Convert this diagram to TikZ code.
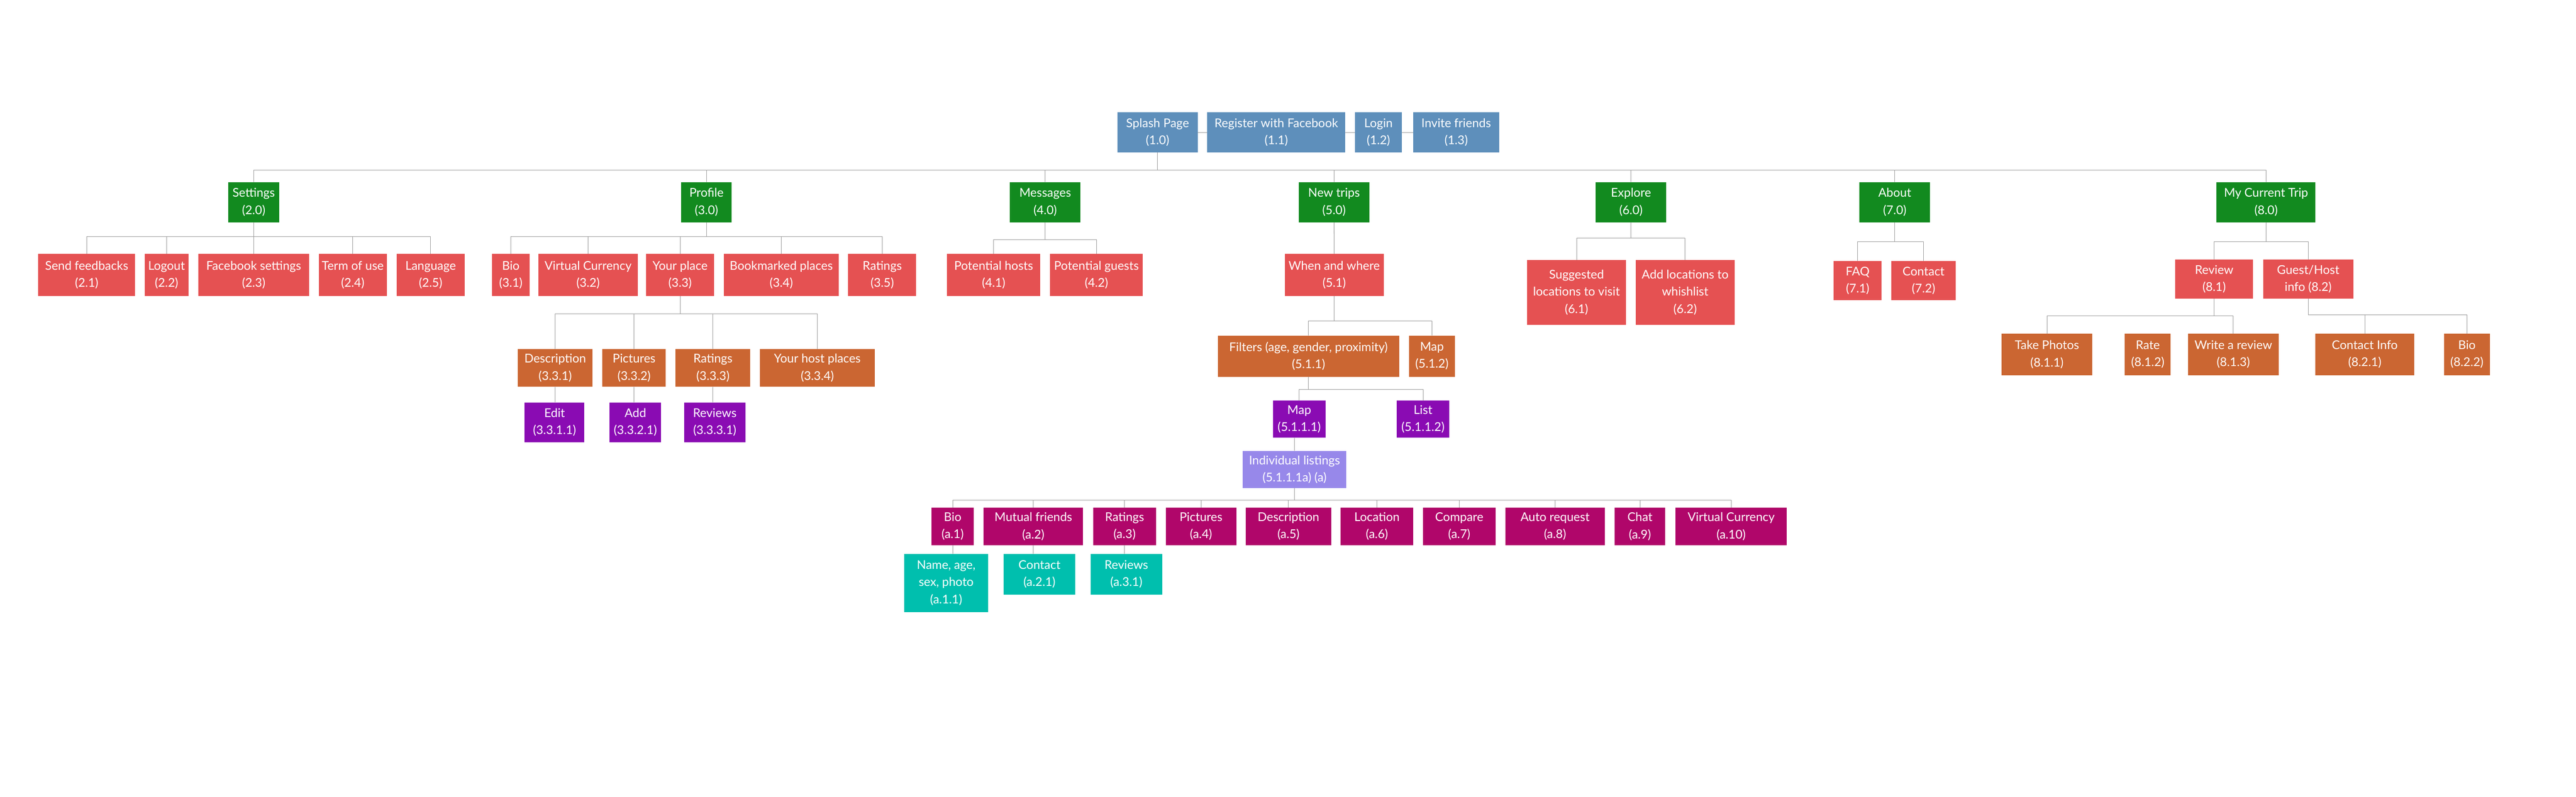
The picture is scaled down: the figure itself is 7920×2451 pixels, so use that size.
\documentclass[tikz,border=0pt]{standalone}
\usepackage{fontspec}
\setmainfont{Lato}
\definecolor{navblue}{RGB}{94,143,187}
\definecolor{topgreen}{RGB}{18,138,31}
\definecolor{itemred}{RGB}{229,81,82}
\definecolor{suborange}{RGB}{203,102,50}
\definecolor{leafpurple}{RGB}{138,11,179}
\definecolor{listlav}{RGB}{151,136,234}
\definecolor{detailmag}{RGB}{176,6,106}
\definecolor{extrateal}{RGB}{0,191,174}
\definecolor{linegray}{RGB}{154,154,154}
\begin{document}
\begin{tikzpicture}[x=0.25pt, y=-0.25pt, line join=round, line cap=round,
    font=\fontsize{9.3}{13.2}\selectfont,
    card/.style={inner sep=0pt, align=center, text=white},
    dims/.style 2 args={minimum width=#1pt, minimum height=#2pt},
    navbox/.style={card, fill=navblue},
    topbox/.style={card, fill=topgreen},
    redbox/.style={card, fill=itemred},
    orangebox/.style={card, fill=suborange},
    purplebox/.style={card, fill=leafpurple},
    lavbox/.style={card, fill=listlav},
    magbox/.style={card, fill=detailmag},
    tealbox/.style={card, fill=extrateal},
    link/.style={draw=linegray, line width=0.4pt}]
  \useasboundingbox (0,0) rectangle (7920,2451);

  % start row
  \node[navbox, dims={61.5}{30.75}] (splash) at (3559,407.5) {Splash Page\\(1.0)};
  \node[navbox, dims={106}{30.75}] (register) at (3924,407.5) {Register with Facebook\\(1.1)};
  \node[navbox, dims={36}{30.75}] (login) at (4238,407.5) {Login\\(1.2)};
  \node[navbox, dims={66}{30.75}] (invite) at (4477,407.5) {Invite friends\\(1.3)};

  % main sections
  \node[topbox, dims={39}{31}] (settings) at (780,622) {Settings\\(2.0)};
  \node[topbox, dims={39}{31}] (profile) at (2172,622) {Profile\\(3.0)};
  \node[topbox, dims={54.25}{31}] (messages) at (3213.5,622) {Messages\\(4.0)};
  \node[topbox, dims={54.25}{31}] (newtrips) at (4101.5,622) {New trips\\(5.0)};
  \node[topbox, dims={54.25}{31}] (explore) at (5014.5,622) {Explore\\(6.0)};
  \node[topbox, dims={54.25}{31}] (about) at (5825.5,622) {About\\(7.0)};
  \node[topbox, dims={76}{31}] (mytrip) at (6967,622) {My Current Trip\\(8.0)};

  % second level
  \node[redbox, dims={74.25}{32.5}] (sendfb) at (266.5,846) {Send feedbacks\\(2.1)};
  \node[redbox, dims={33.5}{32.5}] (logout) at (512,846) {Logout\\(2.2)};
  \node[redbox, dims={85}{32.5}] (fbset) at (780,846) {Facebook settings\\(2.3)};
  \node[redbox, dims={52.25}{32.5}] (terms) at (1084.5,846) {Term of use\\(2.4)};
  \node[redbox, dims={52.5}{32.5}] (lang) at (1324,846) {Language\\(2.5)};
  \node[redbox, dims={28.75}{32.5}] (bio) at (1570.5,846) {Bio\\(3.1)};
  \node[redbox, dims={76.5}{32.5}] (vcur) at (1808,846) {Virtual Currency\\(3.2)};
  \node[redbox, dims={52.5}{32.5}] (yourplace) at (2091,846) {Your place\\(3.3)};
  \node[redbox, dims={88}{32.5}] (bookmarked) at (2402,846) {Bookmarked places\\(3.4)};
  \node[redbox, dims={52.25}{32.5}] (ratings) at (2712.5,846) {Ratings\\(3.5)};
  \node[redbox, dims={71.5}{32.5}] (phosts) at (3055,846) {Potential hosts\\(4.1)};
  \node[redbox, dims={71.5}{32.5}] (pguests) at (3371,846) {Potential guests\\(4.2)};
  \node[redbox, dims={76}{32.5}] (whenwhere) at (4102,846) {When and where\\(5.1)};
  \node[redbox, dims={76}{49.75}] (suggested) at (4847,899.5) {Suggested\\locations to visit\\(6.1)};
  \node[redbox, dims={76}{49.75}] (addwish) at (5181,899.5) {Add locations to\\whishlist\\(6.2)};
  \node[redbox, dims={36.75}{30.25}] (faq) at (5711.5,863.5) {FAQ\\(7.1)};
  \node[redbox, dims={49.5}{30.25}] (contact) at (5914,863.5) {Contact\\(7.2)};
  \node[redbox, dims={59.75}{30.25}] (review) at (6807.5,858.5) {Review\\(8.1)};
  \node[redbox, dims={69.25}{30.25}] (guesthost) at (7096.5,858.5) {Guest/Host\\info (8.2)};

  % third level
  \node[orangebox, dims={57.5}{29}] (desc) at (1707,1132) {Description\\(3.3.1)};
  \node[orangebox, dims={48.75}{29}] (pics) at (1949.5,1132) {Pictures\\(3.3.2)};
  \node[orangebox, dims={57.5}{29}] (rat) at (2192,1132) {Ratings\\(3.3.3)};
  \node[orangebox, dims={88}{29}] (hostplaces) at (2513,1132) {Your host places\\(3.3.4)};
  \node[orangebox, dims={139.5}{31.75}] (filters) at (4023,1095.5) {Filters (age, gender, proximity)\\(5.1.1)};
  \node[orangebox, dims={35.25}{31.75}] (mapc) at (4402.5,1095.5) {Map\\(5.1.2)};
  \node[orangebox, dims={69.75}{31.75}] (photos) at (6293.5,1090.5) {Take Photos\\(8.1.1)};
  \node[orangebox, dims={35.25}{31.75}] (rate) at (6603.5,1090.5) {Rate\\(8.1.2)};
  \node[orangebox, dims={69.75}{31.75}] (writerev) at (6866.5,1090.5) {Write a review\\(8.1.3)};
  \node[orangebox, dims={75.75}{31.75}] (contactinfo) at (7270.5,1090.5) {Contact Info\\(8.2.1)};
  \node[orangebox, dims={35.25}{31.75}] (biob) at (7584.5,1090.5) {Bio\\(8.2.2)};

  % fourth level
  \node[purplebox, dims={46}{30.75}] (edit) at (1705,1299.5) {Edit\\(3.3.1.1)};
  \node[purplebox, dims={39.75}{30.75}] (add) at (1953.5,1299.5) {Add\\(3.3.2.1)};
  \node[purplebox, dims={47.25}{30.75}] (reviews) at (2197.5,1299.5) {Reviews\\(3.3.3.1)};
  \node[purplebox, dims={40.25}{28.5}] (mapb) at (3994.5,1290) {Map\\(5.1.1.1)};
  \node[purplebox, dims={40.5}{28.5}] (list) at (4375,1290) {List\\(5.1.1.2)};

  % listings
  \node[lavbox, dims={79.5}{28.75}] (indiv) at (3980,1444.5) {Individual listings\\(5.1.1.1a) (a)};
  \node[magbox, dims={32.5}{28.75}] (a1) at (2929,1619.5) {Bio\\(a.1)};
  \node[magbox, dims={76.5}{28.75}] (a2) at (3177,1619.5) {Mutual friends\\(a.2)};
  \node[magbox, dims={48.25}{28.75}] (a3) at (3457.5,1619.5) {Ratings\\(a.3)};
  \node[magbox, dims={54.25}{28.75}] (a4) at (3692.5,1619.5) {Pictures\\(a.4)};
  \node[magbox, dims={65.75}{28.75}] (a5) at (3961.5,1619.5) {Description\\(a.5)};
  \node[magbox, dims={55.75}{28.75}] (a6) at (4233.5,1619.5) {Location\\(a.6)};
  \node[magbox, dims={55.75}{28.75}] (a7) at (4486.5,1619.5) {Compare\\(a.7)};
  \node[magbox, dims={76.5}{28.75}] (a8) at (4781,1619.5) {Auto request\\(a.8)};
  \node[magbox, dims={39}{28.75}] (a9) at (5042,1619.5) {Chat\\(a.9)};
  \node[magbox, dims={85.75}{28.75}] (a10) at (5322.5,1619.5) {Virtual Currency\\(a.10)};
  \node[tealbox, dims={64.5}{44.75}] (a11) at (2909,1793.5) {Name, age,\\sex, photo\\(a.1.1)};
  \node[tealbox, dims={55}{31.25}] (a21) at (3196,1766.5) {Contact\\(a.2.1)};
  \node[tealbox, dims={55}{31.25}] (a31) at (3463,1766.5) {Reviews\\(a.3.1)};

  % buses
  \coordinate (topbus) at (0,523);
  \coordinate (setbus) at (0,728);
  \coordinate (msgbus) at (0,737);
  \coordinate (explbus) at (0,733);
  \coordinate (aboutbus) at (0,743);
  \coordinate (tripbus) at (0,743);
  \coordinate (placebus) at (0,966);
  \coordinate (wwbus) at (0,987);
  \coordinate (filtbus) at (0,1199);
  \coordinate (indivbus) at (0,1539);
  \coordinate (revbus) at (0,972);
  \coordinate (ghbus) at (0,969);

  \draw[link] (splash) -- (register);
  \draw[link] (register) -- (login);
  \draw[link] (login) -- (invite);
  \foreach \c in {settings,profile,messages,newtrips,explore,about,mytrip}
    \draw[link] (splash.south) -- (splash.south |- topbus) -| (\c.north);
  \foreach \c in {sendfb,logout,fbset,terms,lang}
    \draw[link] (settings.south) -- (settings.south |- setbus) -| (\c.north);
  \foreach \c in {bio,vcur,yourplace,bookmarked,ratings}
    \draw[link] (profile.south) -- (profile.south |- setbus) -| (\c.north);
  \foreach \c in {phosts,pguests}
    \draw[link] (messages.south) -- (messages.south |- msgbus) -| (\c.north);
  \draw[link] (newtrips) -- (whenwhere);
  \foreach \c in {suggested,addwish}
    \draw[link] (explore.south) -- (explore.south |- explbus) -| (\c.north);
  \foreach \c in {faq,contact}
    \draw[link] (about.south) -- (about.south |- aboutbus) -| (\c.north);
  \foreach \c in {review,guesthost}
    \draw[link] (mytrip.south) -- (mytrip.south |- tripbus) -| (\c.north);
  \foreach \c in {desc,pics,rat,hostplaces}
    \draw[link] (yourplace.south) -- (yourplace.south |- placebus) -| (\c.north);
  \foreach \c in {filters,mapc}
    \draw[link] (whenwhere.south) -- (whenwhere.south |- wwbus) -| (\c.north);
  \foreach \c in {mapb,list}
    \draw[link] (filters.south) -- (filters.south |- filtbus) -| (\c.north);
  \foreach \c in {photos,writerev}
    \draw[link] (review.south) -- (review.south |- revbus) -| (\c.north);
  \foreach \c in {contactinfo,biob}
    \draw[link] (guesthost.south) -- (guesthost.south |- ghbus) -| (\c.north);
  \draw[link] (desc.south) -- (desc.south |- edit.north);
  \draw[link] (pics.south) -- (pics.south |- add.north);
  \draw[link] (rat.south) -- (rat.south |- reviews.north);
  \draw[link] (mapb.south -| indiv.north) -- (indiv.north);
  \foreach \c in {a1,a2,a3,a4,a5,a6,a7,a8,a9,a10}
    \draw[link] (indiv.south) -- (indiv.south |- indivbus) -| (\c.north);
  \draw[link] (a1.south) -- (a1.south |- a11.north);
  \draw[link] (a2.south) -- (a2.south |- a21.north);
  \draw[link] (a3.south) -- (a3.south |- a31.north);
\end{tikzpicture}
\end{document}
